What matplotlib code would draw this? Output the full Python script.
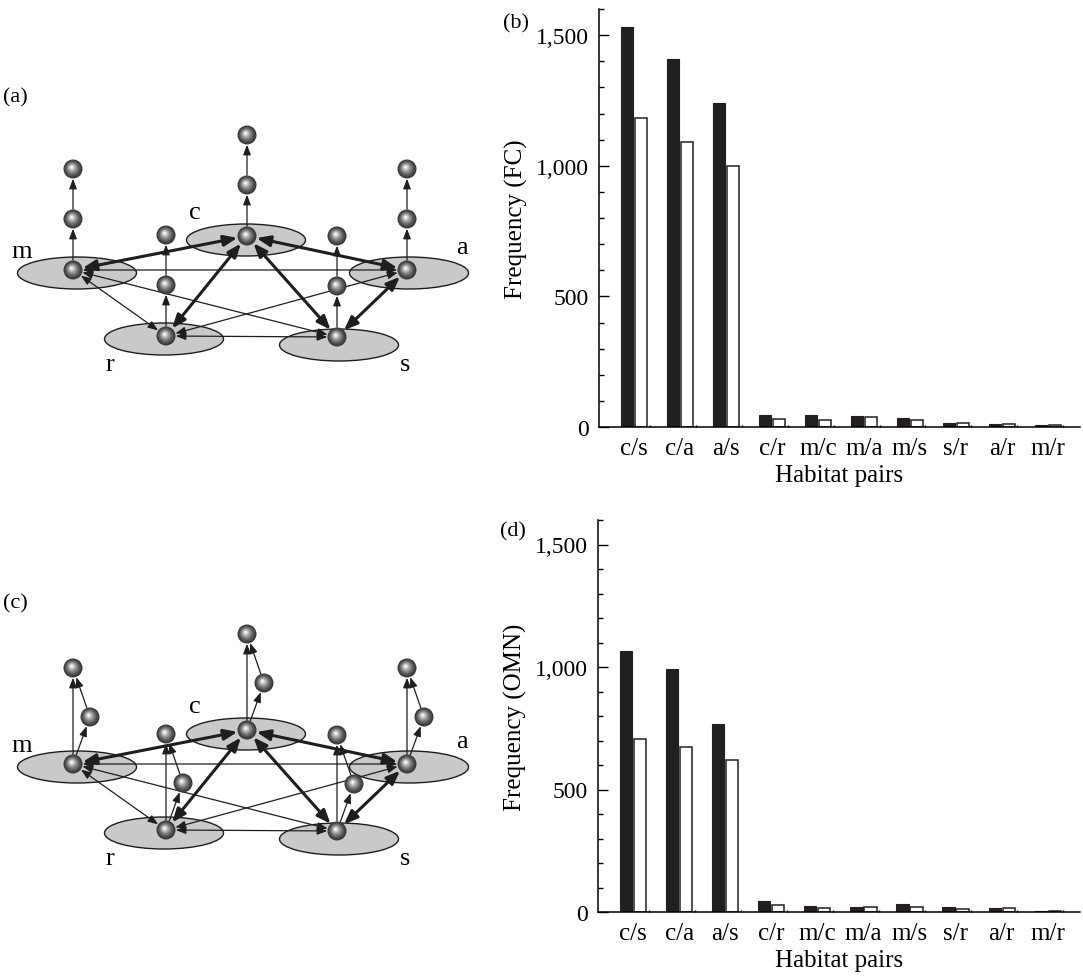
import numpy as np
import matplotlib
matplotlib.use("Agg")
import matplotlib.pyplot as plt
from matplotlib.patches import Ellipse, Circle, FancyArrowPatch

plt.rcParams['font.family'] = ['Liberation Serif', 'DejaVu Serif']

# bar chart data
pairs = ['c/s', 'c/a', 'a/s', 'c/r', 'm/c', 'm/a', 'm/s', 's/r', 'a/r', 'm/r']
fc_black = [1533, 1407, 1241, 46, 45, 43, 33, 14, 13, 6]
fc_white = [1181, 1089, 1000, 32, 28, 37, 28, 15, 10, 6]
omn_black = [1065, 990, 767, 43, 24, 22, 32, 19, 15, 3]
omn_white = [707, 675, 620, 30, 15, 19, 19, 12, 16, 3]

# network data (habitats and links)
habitats = ['m', 'c', 'a', 'r', 's']
thick_links = [('m', 'c'), ('c', 'a'), ('c', 'r'), ('c', 's'), ('a', 's')]
thin_links = [('m', 'a'), ('m', 'r'), ('m', 's'), ('a', 'r'), ('r', 's')]

# diagram layout in pixel units
hab_pos = {'m': (73, 271), 'c': (247, 237), 'a': (407, 271),
           'r': (166, 337), 's': (337, 338)}
ell_off = {'m': (4, 3), 'c': (-1, 4), 'a': (2, 3), 'r': (-2, 3), 's': (2, 8)}
lab_off = {'m': (-51, -19), 'c': (-52, -24), 'a': (55, -23),
           'r': (-56, 28), 's': (68, 27)}
panel_shift = 494
R = 9.5

fig = plt.figure(figsize=(10.83, 9.79), dpi=100)


def ball(ax, x, y, r=R):
    n = 14
    for k in range(n):
        t = k / (n - 1)
        g = 0.22 + 0.78 * t ** 1.4
        rr = r * (1 - 0.92 * t)
        cx = x - 0.15 * r * t
        cy = y - 0.2 * r * t
        ax.add_patch(Circle((cx, cy), rr, facecolor=(g, g, g),
                            edgecolor='none', zorder=5 + k * 0.01))


def arrow(ax, p, q, lw, both=True, head=(6, 2.6)):
    style = '<|-|>' if both else '-|>'
    a = FancyArrowPatch(p, q, arrowstyle=style + ',head_length=%g,head_width=%g' % head,
                        lw=lw, color='#1e1e1e', shrinkA=7, shrinkB=7,
                        mutation_scale=1, zorder=3)
    ax.add_patch(a)


def network(ax, dy, omn):
    pos = {h: (hab_pos[h][0], hab_pos[h][1] + dy) for h in habitats}
    for h in habitats:
        x, y = pos[h]
        ax.add_patch(Ellipse((x + ell_off[h][0], y + ell_off[h][1]), 119, 32,
                             facecolor='#c9c9c9', edgecolor='#1e1e1e', lw=1.0, zorder=1))
        ax.text(x + lab_off[h][0], y + lab_off[h][1], h, fontsize=19,
                ha='center', va='center')
    for a, b in thick_links:
        arrow(ax, pos[a], pos[b], 2.2, head=(8, 3.2))
    for a, b in thin_links:
        arrow(ax, pos[a], pos[b], 0.9, head=(6, 2.3))
    for h in habitats:
        x, y = pos[h]
        if omn:
            side = (x + 17, y - 47)
            top = (x, y - 96)
            arrow(ax, (x, y), side, 0.9, both=False, head=(6, 2.3))
            arrow(ax, side, top, 0.9, both=False, head=(6, 2.3))
            arrow(ax, (x, y), top, 0.9, both=False, head=(6, 2.3))
            chain = [side, top]
        else:
            n1 = (x, y - 51)
            n2 = (x, y - 101)
            arrow(ax, (x, y), n1, 0.9, both=False, head=(6, 2.3))
            arrow(ax, n1, n2, 0.9, both=False, head=(6, 2.3))
            chain = [n1, n2]
        ball(ax, x, y)
        for cx, cy in chain:
            ball(ax, cx, cy)


axn = fig.add_axes([0, 0, 490 / 1083, 1])
axn.set_xlim(0, 490)
axn.set_ylim(979, 0)
axn.axis('off')
network(axn, 0, False)
network(axn, panel_shift, True)


def bars(rect, black, white, ylabel):
    ax = fig.add_axes(rect)
    x = np.arange(len(pairs))
    w = 0.265
    ax.bar(x - 0.152, black, w, color='#231f20', edgecolor='#231f20', lw=0.8, zorder=2)
    ax.bar(x + 0.152, white, w, color='white', edgecolor='#231f20', lw=1.1, zorder=2)
    ax.set_xlim(-0.76, 9.7)
    ax.set_ylim(0, 1600)
    ax.set_yticks([0, 500, 1000, 1500])
    ax.set_yticklabels(['0', '500', '1,000', '1,500'])
    ax.set_yticks(np.arange(0, 1601, 100), minor=True)
    ax.set_xticks(x)
    ax.set_xticklabels(pairs)
    ax.set_xticks(x + 0.34, minor=True)
    ax.tick_params(axis='y', which='major', direction='in', length=7, width=1.0,
                   pad=7, labelsize=17)
    ax.tick_params(axis='y', which='minor', direction='in', length=3.5, width=1.0)
    ax.tick_params(axis='x', which='major', length=0, pad=7, labelsize=18)
    ax.tick_params(axis='x', which='minor', direction='in', length=1.8, width=1.0)
    for s in ['top', 'right']:
        ax.spines[s].set_visible(False)
    for s in ['left', 'bottom']:
        ax.spines[s].set_linewidth(1.1)
    ax.set_ylabel(ylabel, fontsize=18, labelpad=6)
    ax.set_xlabel('Habitat pairs', fontsize=18, labelpad=4)
    return ax


bars([599 / 1083, 1 - 428 / 979, 481 / 1083, 418 / 979], fc_black, fc_white, 'Frequency (FC)')
bars([598 / 1083, 1 - 913 / 979, 482 / 1083, 392 / 979], omn_black, omn_white, 'Frequency (OMN)')

fig.text(15 / 1083, 1 - 98 / 979, '(a)', fontsize=16, ha='center', va='center')
fig.text(15 / 1083, 1 - 604 / 979, '(c)', fontsize=16, ha='center', va='center')
fig.text(516 / 1083, 1 - 24 / 979, '(b)', fontsize=16, ha='center', va='center')
fig.text(513 / 1083, 1 - 532 / 979, '(d)', fontsize=16, ha='center', va='center')

fig.savefig('out.png', dpi=100)
